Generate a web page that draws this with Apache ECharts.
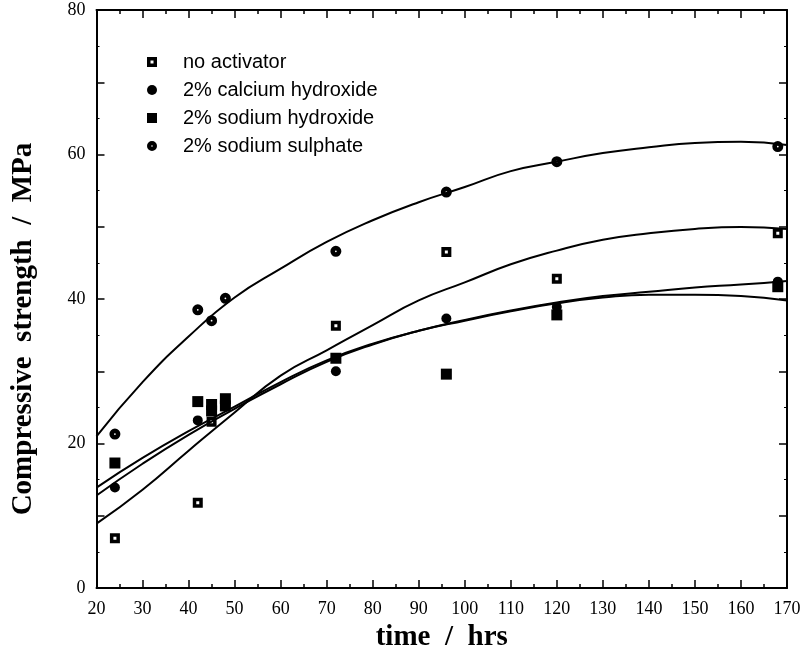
<!DOCTYPE html>
<html>
<head>
<meta charset="utf-8">
<script src="https://cdn.jsdelivr.net/npm/echarts@6/dist/echarts.min.js"></script>
<style>
html,body{margin:0;padding:0;background:#fff;}
#chart{width:804px;height:657px;}
</style>
</head>
<body>
<div id="chart"></div>
<script>
// ---- measured points ----
const hoursNoAct = [24, 42, 45, 72, 96, 120, 168];
const noActivator = [6.9, 11.8, 23.0, 36.3, 46.5, 42.8, 49.1];

const hoursCa = [24, 42, 72, 96, 120, 168];
const calciumHydroxide = [13.9, 23.2, 30.0, 37.3, 38.9, 42.4];

const hoursNaOH = [24, 42, 45, 45, 48, 48, 72, 96, 120, 168];
const sodiumHydroxide = [17.3, 25.8, 25.4, 24.5, 26.2, 25.2, 31.8, 29.6, 37.8, 41.7];

const hoursNa2SO4 = [24, 42, 45, 48, 72, 96, 120, 168];
const sodiumSulphate = [21.3, 38.5, 37.0, 40.1, 46.6, 54.8, 59.0, 61.1];

// ---- fitted curves ----
const fitHours = [20, 30, 40, 50, 60, 70, 80, 90, 100, 110, 120, 130, 140, 150, 160, 170];
const fitNoAct = [8.9, 13.6, 19.0, 24.3, 29.4, 32.9, 36.4, 39.8, 42.3, 44.8, 46.7, 48.2, 49.1, 49.7, 49.95, 49.7];
const fitCa    = [12.8, 17.2, 21.2, 24.8, 28.2, 31.3, 33.7, 35.6, 37.1, 38.4, 39.5, 40.4, 41.0, 41.6, 42.0, 42.5];
const fitNaOH  = [13.9, 18.0, 21.7, 25.1, 28.5, 31.5, 33.8, 35.6, 37.0, 38.3, 39.4, 40.2, 40.6, 40.6, 40.4, 39.8];
const fitNa2SO4= [21.0, 28.5, 34.8, 40.2, 44.2, 47.9, 50.9, 53.4, 55.5, 57.7, 59.0, 60.2, 61.0, 61.6, 61.75, 61.3];

// ---- tick labels ----
const xTicks = [20, 30, 40, 50, 60, 70, 80, 90, 100, 110, 120, 130, 140, 150, 160, 170];
const yTickLabels = [0, 20, 40, 60, 80];

const names = ['no activator', '2% calcium hydroxide', '2% sodium hydroxide', '2% sodium sulphate'];

const pair = (xs, ys) => xs.map((x, i) => [x, ys[i]]);

const symHollowSq = 'path://M0,0H10V10H0Z M3.5,3.5V6.5H6.5V3.5Z';
const symBullseye = 'path://M5,0A5,5 0 1,1 5,10A5,5 0 1,1 5,0Z M5,4.2A0.8,0.8 0 1,0 5,5.8A0.8,0.8 0 1,0 5,4.2Z';

const chart = echarts.init(document.getElementById('chart'), null, {renderer: 'canvas'});

const axisCommon = {
  axisLine: {show: true, onZero: false, lineStyle: {color: '#000', width: 2}},
  splitLine: {show: false},
};

function fitLine(ys) {
  return {
    type: 'line', data: pair(fitHours, ys), smooth: true, symbol: 'none',
    lineStyle: {color: '#000', width: 2}, silent: true, z: 2
  };
}

const option = {
  backgroundColor: '#fff',
  animation: false,
  grid: {left: 96.5, right: 17, top: 10, bottom: 66},
  legend: {
    orient: 'vertical', left: 142, top: 47, itemGap: 8,
    itemWidth: 10, itemHeight: 10,
    data: names,
    textStyle: {fontFamily: 'Liberation Sans', fontSize: 20, color: '#000', lineHeight: 20, padding: [0, 0, 0, 21]},
    selectedMode: false
  },
  xAxis: [
    Object.assign({}, axisCommon, {
      type: 'value', min: 20, max: 170, interval: 10, position: 'bottom',
      axisTick: {show: true, inside: true, length: 8, lineStyle: {color: '#000', width: 1.5}},
      minorTick: {show: true, splitNumber: 2, length: 4, lineStyle: {color: '#000', width: 1.5}},
      axisLabel: {
        color: '#000', fontFamily: 'Liberation Serif', fontSize: 18, margin: 12,
        formatter: v => xTicks.includes(v) ? String(v) : ''
      },
      name: 'time  /  hrs', nameLocation: 'middle', nameGap: 35,
      nameTextStyle: {fontFamily: 'Liberation Serif', fontWeight: 'bold', fontSize: 29, color: '#000'}
    }),
    Object.assign({}, axisCommon, {
      type: 'value', min: 20, max: 170, interval: 10, position: 'top',
      axisTick: {show: true, inside: true, length: 8, lineStyle: {color: '#000', width: 1.5}},
      minorTick: {show: true, splitNumber: 2, length: 4, lineStyle: {color: '#000', width: 1.5}},
      axisLabel: {show: false}
    })
  ],
  yAxis: [
    Object.assign({}, axisCommon, {
      type: 'value', min: 0, max: 80, interval: 10, position: 'left',
      axisTick: {show: true, inside: true, length: 8, lineStyle: {color: '#000', width: 1.5}},
      minorTick: {show: true, splitNumber: 2, length: 3, lineStyle: {color: '#000', width: 1}},
      axisLabel: {
        color: '#000', fontFamily: 'Liberation Serif', fontSize: 18, margin: 11,
        formatter: v => yTickLabels.includes(v) ? String(v) : ''
      },
      name: 'Compressive  strength  /  MPa', nameLocation: 'middle', nameGap: 58, nameRotate: 90,
      nameTextStyle: {fontFamily: 'Liberation Serif', fontWeight: 'bold', fontSize: 29, color: '#000', padding: [0, 60, 0, 0]}
    }),
    Object.assign({}, axisCommon, {
      type: 'value', min: 0, max: 80, interval: 10, position: 'right',
      axisTick: {show: true, inside: true, length: 8, lineStyle: {color: '#000', width: 1.5}},
      minorTick: {show: true, splitNumber: 2, length: 3, lineStyle: {color: '#000', width: 1}},
      axisLabel: {show: false}
    })
  ],
  series: [
    {name: names[0], type: 'scatter', data: pair(hoursNoAct, noActivator), symbol: symHollowSq, symbolSize: 10, itemStyle: {color: '#000', opacity: 1}, z: 3},
    {name: names[1], type: 'scatter', data: pair(hoursCa, calciumHydroxide), symbol: 'circle', symbolSize: 10, itemStyle: {color: '#000', opacity: 1}, z: 3},
    {name: names[2], type: 'scatter', data: pair(hoursNaOH, sodiumHydroxide), symbol: 'rect', symbolSize: 11, itemStyle: {color: '#000', opacity: 1}, z: 3},
    {name: names[3], type: 'scatter', data: pair(hoursNa2SO4, sodiumSulphate), symbol: symBullseye, symbolSize: 11, itemStyle: {color: '#000', opacity: 1}, z: 3},
    fitLine(fitNoAct),
    fitLine(fitCa),
    fitLine(fitNaOH),
    fitLine(fitNa2SO4)
  ]
};
chart.setOption(option);
</script>
</body>
</html>
